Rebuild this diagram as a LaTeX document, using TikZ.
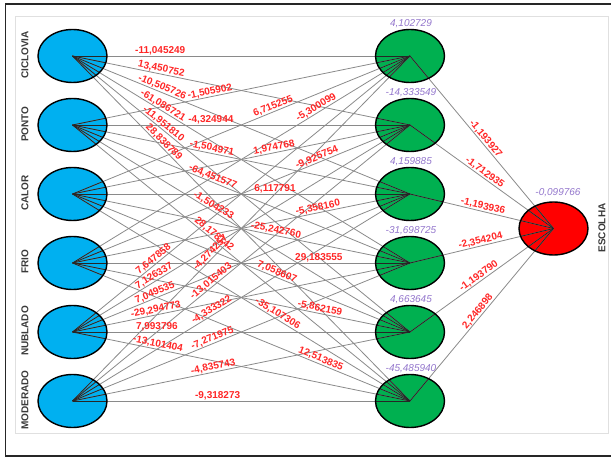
\documentclass[tikz,border=0pt]{standalone}
\usepackage{fontspec}
\setmainfont{Liberation Sans}
\usetikzlibrary{shapes.geometric}
\definecolor{inblue}{HTML}{00B0F0}
\definecolor{hidgreen}{HTML}{00B050}
\definecolor{outred}{HTML}{FF0000}
\definecolor{wtred}{HTML}{FF2626}
\definecolor{biaspurple}{HTML}{9376CC}
\definecolor{linegrey}{HTML}{8A8A8A}
\definecolor{labgrey}{HTML}{3A3A3A}
\definecolor{framedark}{HTML}{262626}
\definecolor{framelight}{HTML}{E0E0E0}
\tikzset{
  neuron/.style={ellipse, minimum width=69pt, minimum height=53pt, inner sep=0pt},
  conn/.style={draw=linegrey, line width=0.8pt},
  innerline/.style={draw=black!85, line width=0.8pt},
  rim/.style={draw=black, line width=1.4pt},
  weight/.style={text=wtred, font=\fontsize{10}{12}\selectfont\bfseries, sloped, above, inner sep=0.6pt},
  bias/.style={text=biaspurple, font=\fontsize{10}{12}\selectfont\itshape, inner sep=0pt},
  varname/.style={text=labgrey, font=\fontsize{10}{12}\selectfont\bfseries, rotate=90, inner sep=0pt},
}
\begin{document}
\begin{tikzpicture}[x=1pt,y=-1pt]
\useasboundingbox (0,0) rectangle (611,457);
% frame
\draw[framelight, line width=0.8pt] (15.5,16) rectangle (608,433);
\draw[framedark, line width=1.5pt] (612,4) -- (5.7,4) -- (5.7,456) -- (612,456);

% neurons (fill)
\foreach \n/\y in {1/56,2/125,3/194,4/263,5/332,6/401} {
  \node[neuron, fill=inblue] (i\n) at (72.5,\y) {};
  \node[neuron, fill=hidgreen] (h\n) at (410,\y) {};
}
\node[neuron, fill=outred] (o) at (553.5,228.5) {};

% connectors
\foreach \a in {1,...,6} {
  \foreach \b in {1,...,6} { \draw[conn] (i\a.center) -- (h\b.center); }
  \draw[conn] (h\a.center) -- (o.center);
}

% dark parts of connectors inside the ellipses
\foreach \a in {1,...,6} {
  \begin{scope}
    \clip (i\a.center) ellipse [x radius=34.5pt, y radius=26.5pt];
    \foreach \b in {1,...,6} { \draw[innerline] (i\a.center) -- (h\b.center); }
  \end{scope}
  \begin{scope}
    \clip (h\a.center) ellipse [x radius=34.5pt, y radius=26.5pt];
    \foreach \b in {1,...,6} { \draw[innerline] (i\b.center) -- (h\a.center); }
    \draw[innerline] (h\a.center) -- (o.center);
  \end{scope}
}
\begin{scope}
  \clip (o.center) ellipse [x radius=34.5pt, y radius=26.5pt];
  \foreach \b in {1,...,6} { \draw[innerline] (h\b.center) -- (o.center); }
\end{scope}

% outlines
\foreach \a in {1,...,6} {
  \draw[rim] (i\a.center) ellipse [x radius=34.5pt, y radius=26.5pt];
  \draw[rim] (h\a.center) ellipse [x radius=34.5pt, y radius=26.5pt];
}
\draw[rim] (o.center) ellipse [x radius=34.5pt, y radius=26.5pt];

% weights: CICLOVIA
\path (i1.center) -- (h1.center) node[weight, pos=0.26] {-11,045249};
\path (i1.center) -- (h2.center) node[weight, pos=0.26] {13,450752};
\path (i1.center) -- (h3.center) node[weight, pos=0.26] {-10,505726};
\path (i1.center) -- (h4.center) node[weight, pos=0.26] {-61,086721};
\path (i1.center) -- (h5.center) node[weight, pos=0.26] {-11,951810};
\path (i1.center) -- (h6.center) node[weight, pos=0.26] {28,838789};
% PONTO
\path (i2.center) -- (h1.center) node[weight, pos=0.41] {-1,505902};
\path (i2.center) -- (h2.center) node[weight, pos=0.41] {-4,324944};
\path (i2.center) -- (h3.center) node[weight, pos=0.41] {-1,504971};
\path (i2.center) -- (h4.center) node[weight, pos=0.41] {-64,451577};
\path (i2.center) -- (h5.center) node[weight, pos=0.41] {-1,504233};
\path (i2.center) -- (h6.center) node[weight, pos=0.41] {28,178142};
% CALOR
\path (i3.center) -- (h1.center) node[weight, pos=0.60] {6,715255};
\path (i3.center) -- (h2.center) node[weight, pos=0.60] {1,974768};
\path (i3.center) -- (h3.center) node[weight, pos=0.60] {6,117791};
\path (i3.center) -- (h4.center) node[weight, pos=0.60] {-25,242760};
\path (i3.center) -- (h5.center) node[weight, pos=0.60] {7,058607};
\path (i3.center) -- (h6.center) node[weight, pos=0.60] {-35,107306};
% FRIO
\path (i4.center) -- (h1.center) node[weight, pos=0.73] {-5,300099};
\path (i4.center) -- (h2.center) node[weight, pos=0.73] {-9,925754};
\path (i4.center) -- (h3.center) node[weight, pos=0.73] {-5,358160};
\path (i4.center) -- (h4.center) node[weight, pos=0.73] {29,183555};
\path (i4.center) -- (h5.center) node[weight, pos=0.73] {-5,862159};
\path (i4.center) -- (h6.center) node[weight, pos=0.73] {12,513835};
% NUBLADO
\path (i5.center) -- (h1.center) node[weight, pos=0.25] {7,647858};
\path (i5.center) -- (h2.center) node[weight, pos=0.25] {7,126337};
\path (i5.center) -- (h3.center) node[weight, pos=0.25] {7,049535};
\path (i5.center) -- (h4.center) node[weight, pos=0.25] {-29,294773};
\path (i5.center) -- (h5.center) node[weight, pos=0.25] {7,993796};
\path (i5.center) -- (h6.center) node[weight, pos=0.25] {-13,101404};
% MODERADO
\path (i6.center) -- (h1.center) node[weight, pos=0.42] {-4,274257};
\path (i6.center) -- (h2.center) node[weight, pos=0.42] {-13,015403};
\path (i6.center) -- (h3.center) node[weight, pos=0.42] {-4,333322};
\path (i6.center) -- (h4.center) node[weight, pos=0.42] {-7,271975};
\path (i6.center) -- (h5.center) node[weight, pos=0.42] {-4,835743};
\path (i6.center) -- (h6.center) node[weight, pos=0.43] {-9,318273};
% hidden -> output
\path (h1.center) -- (o.center) node[weight, pos=0.5] {-1,193927};
\path (h2.center) -- (o.center) node[weight, pos=0.5] {-1,712935};
\path (h3.center) -- (o.center) node[weight, pos=0.5] {-1,193936};
\path (h4.center) -- (o.center) node[weight, pos=0.5] {-2,354204};
\path (h5.center) -- (o.center) node[weight, pos=0.5] {-1,193790};
\path (h6.center) -- (o.center) node[weight, pos=0.5] {2,246898};

% biases
\node[bias] (b1) at (411,23.5) {4,102729};
\node[bias] (b2) at (411,92.5) {-14,333549};
\node[bias] (b3) at (411,161.5) {4,159885};
\node[bias] (b4) at (411,230.5) {-31,698725};
\node[bias] (b5) at (411,299.5) {4,663645};
\node[bias] (b6) at (411,368.5) {-45,485940};
\node[bias] (bo) at (558,193) {-0,099766};

% variable names
\node[varname] (n1) at (25,55) {CICLOVIA};
\node[varname] (n2) at (25,124) {PONTO};
\node[varname] (n3) at (25,193) {CALOR};
\node[varname] (n4) at (25,262) {FRIO};
\node[varname] (n5) at (25,331) {NUBLADO};
\node[varname] (n6) at (25,400) {MODERADO};
\node[varname] (no) at (602,228) {ESCOLHA};
\end{tikzpicture}
\end{document}
